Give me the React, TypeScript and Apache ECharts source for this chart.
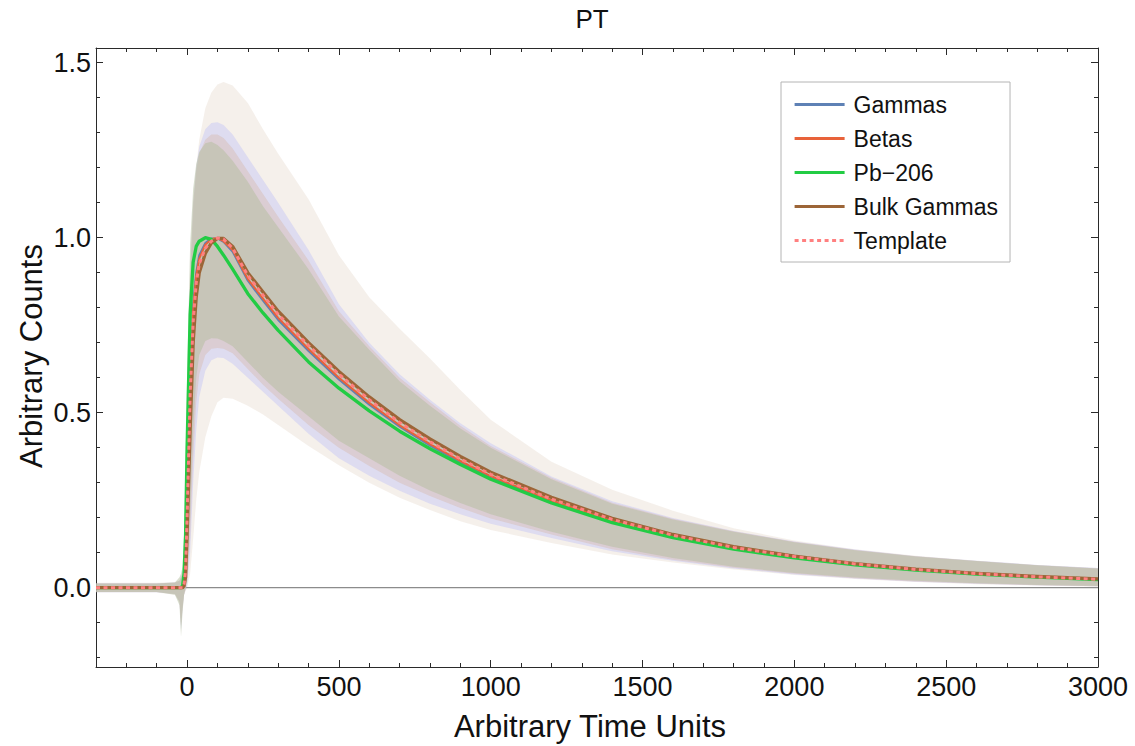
import React, { useEffect, useRef } from "react";
import * as echarts from "echarts";

// sample positions (Arbitrary Time Units)
const X = [-300, -100, -40, -25, -20, -15, -10, -5, 0, 10, 20, 30, 40, 60, 80, 100, 120, 150, 200, 250, 300, 400, 500, 600, 700, 800, 900, 1000, 1200, 1400, 1600, 1800, 2000, 2200, 2400, 2600, 2800, 3000];

// mean pulse shapes
const GAMMAS = [0, 0, 0, 0, 0, 0, 0.01, 0.07, 0.25, 0.62, 0.81, 0.9, 0.95, 0.985, 0.998, 0.998, 0.988, 0.96, 0.877, 0.82, 0.765, 0.676, 0.595, 0.523, 0.46, 0.406, 0.358, 0.316, 0.247, 0.19, 0.147, 0.113, 0.087, 0.067, 0.051, 0.039, 0.03, 0.024];
const BETAS = [0, 0, 0, 0, 0, 0, 0.01, 0.06, 0.22, 0.58, 0.79, 0.89, 0.94, 0.98, 0.996, 0.999, 0.99, 0.965, 0.882, 0.826, 0.771, 0.682, 0.6, 0.528, 0.464, 0.41, 0.362, 0.319, 0.249, 0.192, 0.148, 0.114, 0.088, 0.067, 0.051, 0.039, 0.03, 0.024];
const PB206 = [0, 0, 0, 0, 0, 0.005, 0.04, 0.15, 0.4, 0.78, 0.93, 0.975, 0.99, 1.0, 0.995, 0.975, 0.95, 0.91, 0.84, 0.785, 0.735, 0.645, 0.57, 0.505, 0.447, 0.397, 0.352, 0.31, 0.242, 0.186, 0.143, 0.11, 0.085, 0.065, 0.05, 0.039, 0.03, 0.023];
const BULK = [0, 0, 0, 0, 0, 0, 0.005, 0.03, 0.15, 0.45, 0.7, 0.83, 0.9, 0.955, 0.985, 0.998, 0.998, 0.975, 0.9, 0.845, 0.79, 0.7, 0.618, 0.545, 0.48, 0.425, 0.375, 0.33, 0.258, 0.198, 0.152, 0.117, 0.09, 0.069, 0.053, 0.041, 0.032, 0.025];
const TEMPLATE = [0, 0, 0, 0, 0, 0, 0.01, 0.05, 0.2, 0.55, 0.76, 0.87, 0.925, 0.97, 0.99, 0.999, 0.996, 0.97, 0.892, 0.836, 0.781, 0.692, 0.61, 0.537, 0.472, 0.417, 0.368, 0.324, 0.253, 0.195, 0.15, 0.115, 0.089, 0.068, 0.052, 0.04, 0.031, 0.024];

// spread bands (lower / upper)
const BULK_HI = [0.014, 0.014, 0.016, 0.02, 0.025, 0.035, 0.06, 0.15, 0.35, 0.8, 1.06, 1.2, 1.28, 1.37, 1.415, 1.438, 1.445, 1.435, 1.385, 1.31, 1.24, 1.11, 0.95, 0.83, 0.74, 0.655, 0.565, 0.48, 0.36, 0.28, 0.22, 0.17, 0.135, 0.11, 0.091, 0.077, 0.065, 0.056];
const BULK_LO = [-0.014, -0.014, -0.02, -0.04, -0.1, -0.05, -0.02, -0.01, 0.0, 0.04, 0.14, 0.25, 0.33, 0.43, 0.49, 0.53, 0.543, 0.54, 0.52, 0.495, 0.465, 0.405, 0.35, 0.3, 0.257, 0.222, 0.19, 0.165, 0.128, 0.095, 0.072, 0.052, 0.036, 0.025, 0.016, 0.01, 0.006, 0.003];
const GAMMAS_HI = [0.013, 0.013, 0.015, 0.02, 0.03, 0.04, 0.08, 0.2, 0.42, 0.88, 1.1, 1.2, 1.26, 1.31, 1.328, 1.33, 1.322, 1.295, 1.23, 1.165, 1.1, 0.965, 0.81, 0.7, 0.61, 0.537, 0.47, 0.413, 0.318, 0.247, 0.199, 0.162, 0.132, 0.109, 0.09, 0.077, 0.065, 0.056];
const GAMMAS_LO = [-0.013, -0.013, -0.018, -0.04, -0.12, -0.06, -0.02, -0.005, 0.005, 0.1, 0.3, 0.45, 0.545, 0.62, 0.65, 0.658, 0.656, 0.64, 0.6, 0.56, 0.52, 0.44, 0.37, 0.32, 0.277, 0.24, 0.21, 0.183, 0.142, 0.104, 0.077, 0.055, 0.038, 0.026, 0.017, 0.011, 0.007, 0.004];
const BETAS_HI = [0.012, 0.012, 0.014, 0.02, 0.03, 0.04, 0.08, 0.22, 0.45, 0.9, 1.1, 1.19, 1.24, 1.28, 1.295, 1.295, 1.285, 1.255, 1.19, 1.125, 1.06, 0.935, 0.79, 0.69, 0.6, 0.53, 0.463, 0.405, 0.314, 0.243, 0.197, 0.161, 0.131, 0.108, 0.09, 0.076, 0.064, 0.055];
const BETAS_LO = [-0.012, -0.012, -0.018, -0.04, -0.11, -0.06, -0.02, -0.005, 0.015, 0.14, 0.37, 0.53, 0.61, 0.665, 0.683, 0.685, 0.683, 0.67, 0.625, 0.58, 0.54, 0.465, 0.4, 0.348, 0.3, 0.262, 0.228, 0.198, 0.152, 0.11, 0.08, 0.057, 0.04, 0.027, 0.018, 0.012, 0.007, 0.004];
const PB206_HI = [0.012, 0.012, 0.015, 0.03, 0.04, 0.06, 0.15, 0.35, 0.6, 0.98, 1.14, 1.21, 1.245, 1.27, 1.274, 1.265, 1.25, 1.22, 1.16, 1.09, 1.03, 0.91, 0.775, 0.68, 0.59, 0.52, 0.455, 0.4, 0.31, 0.24, 0.195, 0.16, 0.13, 0.107, 0.089, 0.076, 0.064, 0.055];
const PB206_LO = [-0.012, -0.012, -0.02, -0.05, -0.14, -0.07, -0.02, 0.0, 0.03, 0.2, 0.45, 0.6, 0.665, 0.705, 0.713, 0.712, 0.705, 0.69, 0.645, 0.6, 0.56, 0.49, 0.42, 0.37, 0.32, 0.278, 0.242, 0.21, 0.16, 0.117, 0.085, 0.06, 0.042, 0.029, 0.02, 0.013, 0.008, 0.005];

// axis ticks
const X_MAJOR = [0, 500, 1000, 1500, 2000, 2500, 3000];
const X_MINOR = [-200, -100, 100, 200, 300, 400, 600, 700, 800, 900, 1100, 1200, 1300, 1400, 1600, 1700, 1800, 1900, 2100, 2200, 2300, 2400, 2600, 2700, 2800, 2900];
const Y_MAJOR = [0, 0.5, 1.0, 1.5];
const Y_MINOR = [-0.2, -0.1, 0.1, 0.2, 0.3, 0.4, 0.6, 0.7, 0.8, 0.9, 1.1, 1.2, 1.3, 1.4];
const X_MIN = -300;
const X_MAX = 3000;
const Y_MIN = -0.2266;
const Y_MAX = 1.542;

const FONT = "'Liberation Sans', Arial, sans-serif";
const FRAME = "#2a2a2a";

const pairs = (ys: number[]) => X.map((x, i) => [x, ys[i]]);

const band = (name: string, lo: number[], hi: number[], fill: string) => ({
  type: "custom",
  name,
  silent: true,
  z: 2,
  data: [[0, 0]],
  renderItem: (_params: any, api: any) => {
    const pts: number[][] = [];
    for (let i = 0; i < X.length; i++) pts.push(api.coord([X[i], hi[i]]));
    for (let i = X.length - 1; i >= 0; i--) pts.push(api.coord([X[i], lo[i]]));
    return { type: "polygon", shape: { points: pts }, style: { fill } };
  },
});

const lineSeries = (name: string, ys: number[], color: string, width: number, type: any = "solid") => ({
  type: "line",
  name,
  data: pairs(ys),
  showSymbol: false,
  symbol: "none",
  smooth: false,
  z: 5,
  lineStyle: { color, width, type, cap: "butt", join: "round" },
  itemStyle: { color },
});

const xAxisBase = (position: string, ticks: number[], len: number, labels: boolean, line: boolean) => ({
  type: "value",
  position,
  min: X_MIN,
  max: X_MAX,
  splitLine: { show: false },
  axisLine: { show: line, onZero: false, lineStyle: { color: FRAME, width: 1 } },
  axisTick: { show: true, inside: true, length: len, customValues: ticks, lineStyle: { color: FRAME, width: 1 } },
  axisLabel: labels
    ? {
        show: true,
        customValues: ticks,
        fontSize: 27,
        color: "#111",
        fontFamily: FONT,
        margin: 6,
        formatter: (v: number) => String(Math.round(v)),
      }
    : { show: false },
});

const yAxisBase = (position: string, ticks: number[], len: number, labels: boolean, line: boolean) => ({
  type: "value",
  position,
  min: Y_MIN,
  max: Y_MAX,
  splitLine: { show: false },
  axisLine: { show: line, onZero: false, lineStyle: { color: FRAME, width: 1 } },
  axisTick: { show: true, inside: true, length: len, customValues: ticks, lineStyle: { color: FRAME, width: 1 } },
  axisLabel: labels
    ? {
        show: true,
        customValues: ticks,
        fontSize: 27,
        color: "#111",
        fontFamily: FONT,
        margin: 5,
        formatter: (v: number) => v.toFixed(1),
      }
    : { show: false },
});

export default function App() {
  const ref = useRef<HTMLDivElement>(null);

  useEffect(() => {
    if (!ref.current) return;
    const chart = echarts.init(ref.current, undefined, { renderer: "svg" });
    const option: any = {
      animation: false,
      backgroundColor: "#ffffff",
      grid: { left: 96, right: 37, top: 48, bottom: 79, containLabel: false },
      xAxis: [
        xAxisBase("bottom", X_MAJOR, 7, true, true),
        xAxisBase("bottom", X_MINOR, 4, false, false),
        xAxisBase("top", X_MAJOR, 7, false, true),
        xAxisBase("top", X_MINOR, 4, false, false),
      ],
      yAxis: [
        yAxisBase("left", Y_MAJOR, 7, true, true),
        yAxisBase("left", Y_MINOR, 4, false, false),
        yAxisBase("right", Y_MAJOR, 7, false, true),
        yAxisBase("right", Y_MINOR, 4, false, false),
      ],
      legend: {
        data: ["Gammas", "Betas", "Pb\u2212206", "Bulk Gammas", "Template"],
        orient: "vertical",
        left: 781,
        top: 82,
        padding: [11, 12, 10, 12],
        itemGap: 11,
        itemWidth: 50,
        itemHeight: 22,
        backgroundColor: "#ffffff",
        borderColor: "#b4b4b4",
        borderWidth: 1,
        borderRadius: 0,
        selectedMode: false,
        itemStyle: { color: "rgba(0,0,0,0)", borderWidth: 0, opacity: 0 },
        lineStyle: { width: 3.2 },
        textStyle: { fontSize: 23, color: "#111", fontFamily: FONT, padding: [0, 0, 0, 4], lineHeight: 22 },
      },
      graphic: [
        {
          type: "text",
          x: 592,
          y: 19,
          style: { text: "PT", fontSize: 26, fontFamily: FONT, fill: "#111", textAlign: "center", textVerticalAlign: "middle" },
        },
        {
          type: "text",
          x: 590,
          y: 726,
          style: { text: "Arbitrary Time Units", fontSize: 31, fontFamily: FONT, fill: "#111", textAlign: "center", textVerticalAlign: "middle" },
        },
        {
          type: "text",
          x: 31,
          y: 356,
          rotation: Math.PI / 2,
          style: { text: "Arbitrary Counts", fontSize: 31, fontFamily: FONT, fill: "#111", textAlign: "center", textVerticalAlign: "middle" },
        },
      ],
      series: [
        {
          type: "line",
          name: "zero",
          data: [
            [X_MIN, 0],
            [X_MAX, 0],
          ],
          symbol: "none",
          silent: true,
          z: 1,
          lineStyle: { color: "#8c8c8c", width: 1.2 },
        },
        band("Bulk Gammas band", BULK_LO, BULK_HI, "rgba(158,105,55,0.1)"),
        band("Gammas band", GAMMAS_LO, GAMMAS_HI, "rgba(199,200,245,0.5)"),
        band("Betas band", BETAS_LO, BETAS_HI, "rgba(216,190,182,0.5)"),
        band("Pb-206 band", PB206_LO, PB206_HI, "rgba(179,189,157,0.5)"),
        lineSeries("Gammas", GAMMAS, "#5E81B5", 2),
        lineSeries("Betas", BETAS, "#E8623A", 2),
        lineSeries("Pb\u2212206", PB206, "#22CC44", 3.3),
        lineSeries("Bulk Gammas", BULK, "#9C6537", 3.3),
        lineSeries("Template", TEMPLATE, "#FF8080", 3, [4, 3.5]),
      ],
    };
    chart.setOption(option);
    return () => chart.dispose();
  }, []);

  return (
    <div
      ref={ref}
      style={{ position: "fixed", left: 0, top: 0, width: 1135, height: 746, background: "#fff" }}
    />
  );
}
